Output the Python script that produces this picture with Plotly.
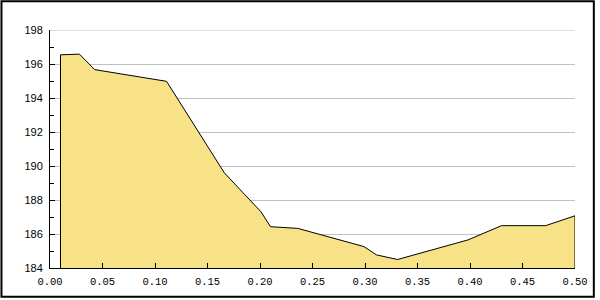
import plotly.graph_objects as go

x_vals = [0.01, 0.028, 0.0425, 0.111, 0.166, 0.201, 0.210, 0.236, 0.299, 0.311, 0.331, 0.398, 0.430, 0.472, 0.50]
y_vals = [196.54, 196.58, 195.67, 194.98, 189.6, 187.3, 186.43, 186.33, 185.26, 184.77, 184.5, 185.65, 186.49, 186.49, 187.07]
y_base = 184
x_ticks = [0.0, 0.05, 0.10, 0.15, 0.20, 0.25, 0.30, 0.35, 0.40, 0.45, 0.50]
y_ticks = [184, 186, 188, 190, 192, 194, 196, 198]

W, H = 600, 300
L, R, T, B = 50, 20, 30, 30
pw, ph = W - L - R, H - T - B

poly_x = [x_vals[0]] + x_vals + [x_vals[-1]]
poly_y = [y_base] + y_vals + [y_base]

fig = go.Figure()
fig.add_trace(go.Scatter(
    x=poly_x, y=poly_y, mode="lines", fill="toself",
    fillcolor="#F7E287", line=dict(color="black", width=1),
    hoverinfo="skip", showlegend=False,
))

xfont = dict(family="Liberation Mono", size=10.5, color="black")
yfont = dict(family="Liberation Sans", size=11, color="black")
fig.update_layout(
    width=W, height=H,
    margin=dict(l=L, r=R, t=T, b=B),
    paper_bgcolor="white", plot_bgcolor="white",
    xaxis=dict(
        range=[0, 0.5], tickvals=x_ticks, tickformat=".2f",
        showgrid=False, zeroline=False,
        showline=True, linecolor="black", linewidth=1,
        ticks="inside", ticklen=5, tickcolor="black", tickwidth=1,
        tickfont=xfont, ticklabelstandoff=3,
    ),
    yaxis=dict(
        range=[184, 198], tickvals=y_ticks,
        showgrid=True, gridcolor="#C0C0C0", gridwidth=1, zeroline=False,
        showline=True, linecolor="black", linewidth=1,
        ticks="inside", ticklen=5, tickcolor="black", tickwidth=1,
        tickfont=yfont, ticklabelstandoff=4,
        minor=dict(dtick=1, tick0=184, ticks="inside", ticklen=4, tickcolor="black", showgrid=False),
    ),
    shapes=[
        dict(
            type="line", xref="paper", yref="y",
            x0=0, x1=1, y0=y_ticks[-1], y1=y_ticks[-1],
            line=dict(color="#C0C0C0", width=1), layer="below",
        ),
        dict(
            type="rect", xref="paper", yref="paper",
            x0=(1 - L) / pw, x1=(W - 1 - L) / pw,
            y0=(ph + T - (H - 1)) / ph, y1=(ph + T - 1) / ph,
            line=dict(color="black", width=2), fillcolor="rgba(0,0,0,0)",
            layer="above",
        ),
    ],
)

fig.write_html("out.html")
